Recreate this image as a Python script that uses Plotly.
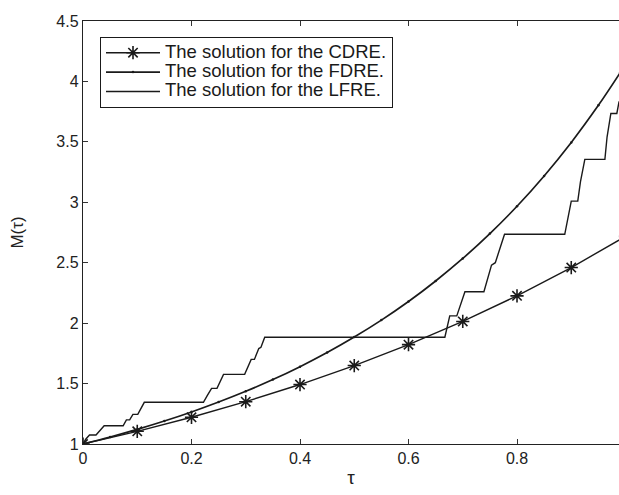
import plotly.graph_objects as go

# CDRE solution (asterisk markers every 0.1)
tau_cdre = [0.0, 0.1, 0.2, 0.3, 0.4, 0.5, 0.6, 0.7, 0.8, 0.9, 1.0]
m_cdre = [1.0, 1.105, 1.221, 1.35, 1.492, 1.649, 1.822, 2.014, 2.226, 2.46, 2.718]

# FDRE solution (smooth curve)
tau_fdre = [0.0, 0.05, 0.1, 0.15, 0.2, 0.25, 0.3, 0.35, 0.4, 0.45, 0.5,
            0.55, 0.6, 0.65, 0.7, 0.75, 0.8, 0.85, 0.9, 0.95, 0.99]
m_fdre = [1.0, 1.058, 1.121, 1.19, 1.265, 1.347, 1.436, 1.533, 1.64, 1.757, 1.885,
          2.025, 2.179, 2.349, 2.535, 2.741, 2.967, 3.218, 3.495, 3.802, 4.071]

# LFRE solution (staircase)
tau_lfre = [0.0, 0.005, 0.012, 0.024, 0.039, 0.074, 0.080, 0.086, 0.092, 0.101, 0.113,
            0.222, 0.229, 0.237, 0.247, 0.259, 0.298, 0.310, 0.316, 0.324, 0.328, 0.335,
            0.667, 0.676, 0.689, 0.704, 0.739, 0.753, 0.760, 0.777, 0.888, 0.900, 0.912,
            0.917, 0.925, 0.962, 0.966, 0.973, 0.984, 0.988, 0.995]
m_lfre = [1.0, 1.04, 1.074, 1.074, 1.151, 1.151, 1.20, 1.20, 1.245, 1.245, 1.345,
          1.345, 1.40, 1.46, 1.46, 1.576, 1.576, 1.70, 1.70, 1.79, 1.80, 1.883,
          1.883, 2.06, 2.06, 2.26, 2.26, 2.48, 2.50, 2.735, 2.735, 3.01, 3.01,
          3.17, 3.355, 3.355, 3.54, 3.735, 3.735, 3.83, 3.83]

x_ticks = [0, 0.2, 0.4, 0.6, 0.8]
y_ticks = [1, 1.5, 2, 2.5, 3, 3.5, 4, 4.5]

names = ["The solution for the CDRE.", "The solution for the FDRE.", "The solution for the LFRE."]

FONT = "Liberation Sans, Arial, sans-serif"
INK = "#1a1a1a"


def legend_label(text):
    return f'<span style="font-size:18.5px">{text}</span>'


fig = go.Figure()
fig.add_trace(go.Scatter(
    x=tau_cdre, y=m_cdre, mode="lines+markers", name=legend_label(names[0]),
    line=dict(color=INK, width=1.4),
    marker=dict(symbol="asterisk-open", size=11, color=INK,
                line=dict(color=INK, width=1.6)),
))
fig.add_trace(go.Scatter(
    x=tau_fdre, y=m_fdre, mode="lines+markers", name=legend_label(names[1]),
    line=dict(color=INK, width=1.7, shape="spline"),
    marker=dict(symbol="circle", size=2.5, color=INK),
))
fig.add_trace(go.Scatter(
    x=tau_lfre, y=m_lfre, mode="lines", name=legend_label(names[2]),
    line=dict(color=INK, width=1.4),
))

fig.update_layout(
    width=619, height=495,
    margin=dict(l=83, r=0, t=21, b=51),
    paper_bgcolor="white", plot_bgcolor="white",
    font=dict(family=FONT, size=16, color="#222222"),
    showlegend=True,
    legend=dict(
        x=(100 - 83) / 536, y=1 - (37 - 21) / 423, xanchor="left", yanchor="top",
        bgcolor="white", bordercolor=INK, borderwidth=1,
        font=dict(family=FONT, size=12.6, color=INK),
        itemwidth=54, tracegroupgap=0,
    ),
    xaxis=dict(
        range=[0, 0.988], tickvals=x_ticks, ticktext=[str(v) for v in x_ticks],
        ticks="inside", ticklen=5, tickcolor="#333333",
        showline=True, linecolor="#222222", linewidth=1.4, mirror="ticks",
        showgrid=False, zeroline=False,
        title=dict(text="τ", font=dict(family=FONT, size=19, color="#222222"), standoff=4),
        tickfont=dict(size=16),
    ),
    yaxis=dict(
        range=[1, 4.5], tickvals=y_ticks, ticktext=[f"{v:g}" for v in y_ticks],
        ticks="inside", ticklen=5, tickcolor="#333333",
        showline=True, linecolor="#222222", linewidth=1.4,
        showgrid=False, zeroline=False,
        title=dict(text="M(τ)", font=dict(family=FONT, size=17, color="#222222"), standoff=28),
        tickfont=dict(size=16),
    ),
)

fig.write_html(
    "out.html",
    config={"displayModeBar": False},
    post_script="document.body.style.margin='0';document.body.style.overflow='hidden';",
)
